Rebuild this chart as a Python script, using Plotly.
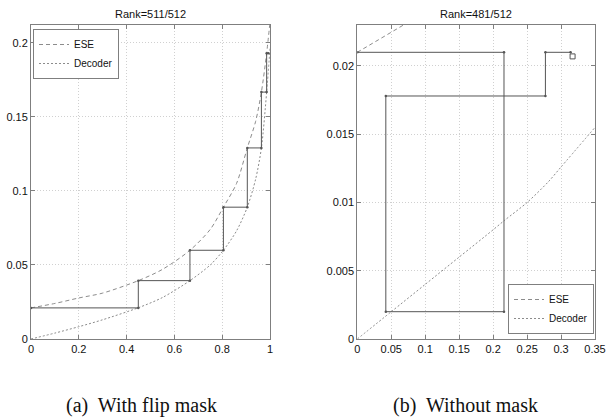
import plotly.graph_objects as go

# ---------------- data: left panel (Rank=511/512, with flip mask) ----------------
ese_a_x = [0, 0.1, 0.2, 0.3, 0.449, 0.55, 0.665, 0.75, 0.805, 0.86, 0.905, 0.94, 0.964, 0.986, 1.0]
ese_a_y = [0.021, 0.024, 0.0277, 0.031, 0.0394, 0.047, 0.0599, 0.074, 0.089, 0.105, 0.129, 0.147, 0.1667, 0.193, 0.214]
dec_a_x = [0, 0.1, 0.2, 0.3, 0.449, 0.55, 0.665, 0.75, 0.805, 0.86, 0.905, 0.94, 0.964, 0.986, 1.0]
dec_a_y = [0, 0.004, 0.0083, 0.013, 0.0211, 0.028, 0.0394, 0.05, 0.0599, 0.073, 0.089, 0.108, 0.129, 0.1667, 0.196]
traj_a_x = [0, 0.449, 0.449, 0.665, 0.665, 0.805, 0.805, 0.905, 0.905, 0.964, 0.964, 0.986, 0.986, 0.993]
traj_a_y = [0.021, 0.021, 0.0394, 0.0394, 0.0599, 0.0599, 0.089, 0.089, 0.129, 0.129, 0.1667, 0.1667, 0.193, 0.193]

# ---------------- data: right panel (Rank=481/512, without mask) ----------------
ese_b_x = [0, 0.1]
ese_b_y = [0.021, 0.02394]
dec_b_x = [0, 0.05, 0.1, 0.15, 0.2, 0.217, 0.25, 0.281, 0.3, 0.35]
dec_b_y = [0, 0.002, 0.004, 0.006, 0.008, 0.0087, 0.01, 0.0115, 0.0126, 0.0155]
traj_b_x = [0, 0.216, 0.216, 0.042, 0.042, 0.277, 0.277, 0.314]
traj_b_y = [0.021, 0.021, 0.002, 0.002, 0.0178, 0.0178, 0.021, 0.021]
end_b_x = [0.317]
end_b_y = [0.0207]

xticks_a = [0, 0.2, 0.4, 0.6, 0.8, 1]
xticklabels_a = ["0", "0.2", "0.4", "0.6", "0.8", "1"]
yticks_a = [0, 0.05, 0.1, 0.15, 0.2]
yticklabels_a = ["0", "0.05", "0.1", "0.15", "0.2"]
xticks_b = [0, 0.05, 0.1, 0.15, 0.2, 0.25, 0.3, 0.35]
xticklabels_b = ["0", "0.05", "0.1", "0.15", "0.2", "0.25", "0.3", "0.35"]
yticks_b = [0, 0.005, 0.01, 0.015, 0.02]
yticklabels_b = ["0", "0.005", "0.01", "0.015", "0.02"]

titles = ["Rank=511/512", "Rank=481/512"]
captions = ["(a)\u00a0 With flip mask", "(b)\u00a0 Without mask"]

W, H = 611, 419
FONT = "Liberation Sans Narrow, Arial Narrow, Liberation Sans, sans-serif"
SERIF = "Liberation Serif, Times New Roman, serif"
CURVE = "#8c8c8c"
TRAJ = "#555555"

fig = go.Figure()

def add_panel(xa, ya, ex, ey, dx, dy, tx, ty, legend):
    fig.add_trace(go.Scatter(x=ex, y=ey, mode="lines", name="ESE", xaxis=xa, yaxis=ya,
                             line=dict(color=CURVE, width=1, dash="4px,3px", shape="spline", smoothing=0.8),
                             legend=legend))
    fig.add_trace(go.Scatter(x=dx, y=dy, mode="lines", name="Decoder", xaxis=xa, yaxis=ya,
                             line=dict(color=CURVE, width=1, dash="2px,2px", shape="spline", smoothing=0.8),
                             legend=legend))
    fig.add_trace(go.Scatter(x=tx, y=ty, mode="lines+markers", showlegend=False, xaxis=xa, yaxis=ya,
                             line=dict(color=TRAJ, width=1), marker=dict(size=2.5, color=TRAJ)))

add_panel("x", "y", ese_a_x, ese_a_y, dec_a_x, dec_a_y, traj_a_x, traj_a_y, "legend")
add_panel("x2", "y2", ese_b_x, ese_b_y, dec_b_x, dec_b_y, traj_b_x, traj_b_y, "legend2")
fig.add_trace(go.Scatter(x=end_b_x, y=end_b_y, mode="markers", showlegend=False, xaxis="x2", yaxis="y2",
                         marker=dict(symbol="square-open", size=5, color=TRAJ, line=dict(width=1))))

ydom = [1 - 339 / H, 1 - 25 / H]
common = dict(showline=True, mirror="ticks", linecolor="#7f7f7f", linewidth=1,
              ticks="inside", ticklen=4, tickcolor="#7f7f7f", automargin=False,
              showgrid=True, gridcolor="#d0d0d0", griddash="1px,2px", gridwidth=1,
              zeroline=False, tickfont=dict(family=FONT, size=11, color="#111111"))

legend_common = dict(bgcolor="white", bordercolor="#7f7f7f", borderwidth=1, itemwidth=30,
                     tracegroupgap=0, font=dict(family=FONT, size=10, color="#111111"))

fig.update_layout(
    width=W, height=H, margin=dict(l=0, r=0, t=0, b=0, pad=0, autoexpand=False),
    paper_bgcolor="white", plot_bgcolor="white",
    xaxis=dict(domain=[31 / W, 270 / W], range=[0, 1], tickvals=xticks_a, ticktext=xticklabels_a,
               anchor="y", **common),
    yaxis=dict(domain=ydom, range=[0, 0.212], tickvals=yticks_a, ticktext=yticklabels_a,
               anchor="x", **common),
    xaxis2=dict(domain=[357.3 / W, 595 / W], range=[0, 0.35], tickvals=xticks_b, ticktext=xticklabels_b,
                anchor="y2", **common),
    yaxis2=dict(domain=ydom, range=[0, 0.023], tickvals=yticks_b, ticktext=yticklabels_b,
                anchor="x2", **common),
    legend=dict(x=33 / W, y=1 - 29 / H, xanchor="left", yanchor="top", **legend_common),
    legend2=dict(x=594 / W, y=1 - 334 / H, xanchor="right", yanchor="bottom", **legend_common),
    showlegend=True,
)

for txt, xc in zip(titles, [150.5, 476]):
    fig.add_annotation(text=txt, x=xc / W, y=1 - 14 / H, xref="paper", yref="paper",
                       xanchor="center", yanchor="middle", showarrow=False,
                       font=dict(family=FONT, size=11, color="#111111"))
for txt, xc in zip(captions, [141, 466]):
    fig.add_annotation(text=txt, x=xc / W, y=1 - 405 / H, xref="paper", yref="paper",
                       xanchor="center", yanchor="middle", showarrow=False,
                       font=dict(family=SERIF, size=20, color="#111111"))

fig.write_html("out.html")
